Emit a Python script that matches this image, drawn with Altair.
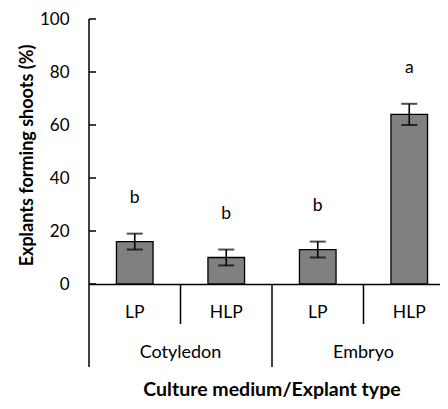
import altair as alt
import pandas as pd

# ---- data ----
groups = ["Cotyledon", "Cotyledon", "Embryo", "Embryo"]
media = ["LP", "HLP", "LP", "HLP"]
means = [16, 10, 13, 64]
errs = [3, 3, 3, 4]
letters = ["b", "b", "b", "a"]
y_ticks = [0, 20, 40, 60, 80, 100]

FONT = "Lato"
PLOT_W = 351          # visible part of the plot area
PLOT_H = 265
CAT_W = 91.5          # pixel width of one category
X_MAX = PLOT_W / CAT_W

df = pd.DataFrame({
    "idx": list(range(len(means))),
    "group": groups,
    "medium": media,
    "mean": means,
    "err": errs,
    "letter": letters,
})

bounds = []
for i in range(1, len(groups)):
    bounds.append({"b": i, "kind": "short" if groups[i] == groups[i - 1] else "long"})
bounds_df = pd.DataFrame(bounds)
ticks_df = pd.DataFrame({"t": y_ticks})

xscale = alt.Scale(domain=[0, X_MAX], nice=False, zero=False)
yscale = alt.Scale(domain=[0, 100], nice=False)

base = alt.Chart(df).transform_calculate(
    pos="datum.idx + 0.5",
    x0="datum.idx + 0.3",
    x1="datum.idx + 0.7",
    lo="datum.mean - datum.err",
    hi="datum.mean + datum.err",
)

bars = base.mark_bar(color="#808080", stroke="#000000", strokeWidth=1.3).encode(
    x=alt.X("x0:Q", scale=xscale,
            axis=alt.Axis(title=None, labels=False, ticks=False, grid=False,
                          domain=True, domainColor="#000000", domainWidth=1.5)),
    x2="x1:Q",
    y=alt.Y("mean:Q", scale=yscale,
            axis=alt.Axis(title="Explants forming shoots (%)", values=y_ticks,
                          grid=False, ticks=False, domain=False,
                          labelPadding=20, labelFont=FONT, labelFontSize=17,
                          labelColor="#000000",
                          titleFont=FONT, titleFontSize=18, titleFontWeight="bold",
                          titleColor="#000000", titleX=-62, titleY=136,
                          titleBaseline="middle")),
    y2=alt.datum(0),
)

err_rule = base.mark_rule(color="#000000", strokeWidth=1.6).encode(
    x=alt.X("pos:Q", scale=xscale), y="lo:Q", y2="hi:Q"
)
cap_lo = base.mark_tick(color="#000000", size=16, thickness=2, orient="horizontal").encode(
    x=alt.X("pos:Q", scale=xscale), y="lo:Q"
)
cap_hi = base.mark_tick(color="#000000", size=16, thickness=2, orient="horizontal").encode(
    x=alt.X("pos:Q", scale=xscale), y="hi:Q"
)

letter_text = base.mark_text(font=FONT, fontSize=17.5, color="#000000",
                             baseline="middle", dy=-36).encode(
    x=alt.X("pos:Q", scale=xscale), y="hi:Q", text="letter:N"
)

medium_text = base.mark_text(font=FONT, fontSize=17.5, color="#000000",
                             baseline="middle").encode(
    x=alt.X("pos:Q", scale=xscale), y=alt.value(PLOT_H + 29), text="medium:N"
)

group_text = base.transform_aggregate(
    center="mean(pos)", groupby=["group"]
).mark_text(font=FONT, fontSize=18, color="#000000", baseline="middle").encode(
    x=alt.X("center:Q", scale=xscale), y=alt.value(PLOT_H + 69), text="group:N"
)

short_sep = alt.Chart(bounds_df).transform_filter("datum.kind == 'short'").mark_rule(
    color="#000000", strokeWidth=1.5).encode(
    x=alt.X("b:Q", scale=xscale), y=alt.value(PLOT_H), y2=alt.value(PLOT_H + 40)
)
long_sep = alt.Chart(bounds_df).transform_filter("datum.kind == 'long'").mark_rule(
    color="#000000", strokeWidth=1.5).encode(
    x=alt.X("b:Q", scale=xscale), y=alt.value(PLOT_H), y2=alt.value(PLOT_H + 83)
)

y_line = alt.Chart(ticks_df).transform_aggregate(n="count()").mark_rule(
    color="#000000", strokeWidth=1.5).encode(
    x=alt.value(0), y=alt.value(0), y2=alt.value(PLOT_H + 83)
)
y_inner_ticks = alt.Chart(ticks_df).mark_rule(color="#000000", strokeWidth=1.5).encode(
    x=alt.value(0), x2=alt.value(7), y=alt.Y("t:Q", scale=yscale)
)

x_title = alt.Chart(ticks_df).transform_aggregate(n="count()").mark_text(
    font=FONT, fontSize=19.5, fontWeight="bold", color="#000000", baseline="alphabetic"
).encode(
    x=alt.value(183), y=alt.value(PLOT_H + 112), text=alt.value("Culture medium/Explant type")
)

chart = alt.layer(
    bars, err_rule, cap_lo, cap_hi, letter_text, medium_text, group_text,
    short_sep, long_sep, y_line, y_inner_ticks, x_title
).properties(
    width=PLOT_W, height=PLOT_H,
    autosize=alt.AutoSizeParams(type="none"),
    padding={"left": 81, "top": 11, "right": 0, "bottom": 117},
    background="white",
).configure_view(stroke=None)

chart.save("out.html", embed_options={"renderer": "svg", "actions": False})
